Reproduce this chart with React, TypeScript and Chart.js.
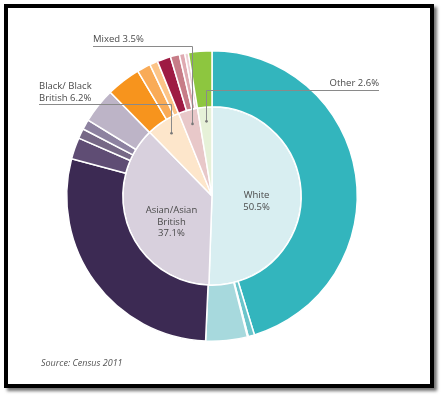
import React, { useEffect, useRef } from "react";
import { Chart, registerables } from "chart.js";

Chart.register(...registerables);

// Inner ring: main ethnic groups (Census 2011)
const groupLabels = ["White", "Asian/Asian British", "Black/ Black British", "Mixed", "Other"];
const groupValues = [50.5, 37.1, 6.2, 3.5, 2.6];
const groupColors = ["#d8eef1", "#d8d0dd", "#fde6cb", "#e8c8c9", "#e6f1d8"];

// Outer ring: sub-groups, in the same clockwise order
const subLabels = [
  "White British", "White Irish", "Gypsy/Traveller", "Other White",
  "Indian", "Pakistani", "Bangladeshi", "Chinese", "Other Asian",
  "African", "Caribbean", "Other Black",
  "White & Black Caribbean", "White & Asian", "Other Mixed", "White & Black African",
  "Other",
];
const subValues = [45.1, 0.7, 0.1, 4.6, 28.3, 2.4, 1.1, 1.1, 3.9, 3.8, 1.5, 0.9, 1.5, 1.0, 0.6, 0.4, 2.6];
const subColors = [
  "#33b5bd", "#6cc5cb", "#8fd1d5", "#a7d9dd",
  "#3c2a53", "#5f4d74", "#766886", "#8d82a0", "#bdb4c7",
  "#f7941d", "#f9ab57", "#fcc487",
  "#9e1b43", "#c77c87", "#dfaab1", "#eed0d4",
  "#8dc63f",
];

const FONT = '"Open Sans", sans-serif';
const TEXT = "#4a4a4a";

const labelsPlugin = {
  id: "labelsPlugin",
  afterDraw(chart: any) {
    const ctx = chart.ctx;
    const meta = chart.getDatasetMeta(1);
    const arcs = meta.data;
    const mid = (a: any) => (a.startAngle + a.endAngle) / 2;
    const pt = (a: any, f: number) => {
      const m = mid(a);
      const r = a.outerRadius * f;
      return { x: a.x + Math.cos(m) * r, y: a.y + Math.sin(m) * r };
    };
    ctx.save();
    ctx.fillStyle = TEXT;
    ctx.font = "9.5px " + FONT;
    ctx.textAlign = "center";
    ctx.textBaseline = "middle";
    // White label
    const w = pt(arcs[0], 0.5);
    ctx.fillText("White", w.x, w.y - 1);
    ctx.fillText(groupValues[0].toFixed(1) + "%", w.x, w.y + 11);
    // Asian label
    const a = pt(arcs[1], 0.5);
    ctx.fillText("Asian/Asian", a.x + 1, a.y - 2);
    ctx.fillText("British", a.x + 1, a.y + 10);
    ctx.fillText(groupValues[1].toFixed(1) + "%", a.x + 1, a.y + 21);

    // callouts
    ctx.strokeStyle = "#8a8a8a";
    ctx.lineWidth = 1;
    const callout = (i: number, lineY: number, endX: number) => {
      const p = pt(arcs[i], 0.84);
      const x = Math.round(p.x) + 0.5;
      ctx.beginPath();
      ctx.moveTo(x, p.y);
      ctx.lineTo(x, lineY + 0.5);
      ctx.lineTo(endX, lineY + 0.5);
      ctx.stroke();
      ctx.fillStyle = "#777";
      ctx.beginPath();
      ctx.arc(x, p.y, 1.3, 0, Math.PI * 2);
      ctx.fill();
      return x;
    };
    callout(2, 104, 39);
    callout(3, 46, 93);
    callout(4, 90, 379);

    ctx.fillStyle = TEXT;
    ctx.font = "9.5px " + FONT;
    ctx.textBaseline = "alphabetic";
    ctx.textAlign = "left";
    ctx.fillText("Black/ Black", 39, 89);
    ctx.fillText("British " + groupValues[2].toFixed(1) + "%", 39, 101);
    ctx.fillText("Mixed " + groupValues[3].toFixed(1) + "%", 93, 42);
    ctx.textAlign = "right";
    ctx.fillText("Other " + groupValues[4].toFixed(1) + "%", 379, 86);

    ctx.textAlign = "left";
    ctx.fillStyle = "#555";
    ctx.font = "italic 9px " + FONT;
    ctx.fillText("Source: Census 2011", 41, 366);
    ctx.restore();
  },
};

export default function App() {
  const ref = useRef<HTMLCanvasElement>(null);
  useEffect(() => {
    if (!ref.current) return;
    const chart = new Chart(ref.current, {
      type: "pie",
      data: {
        labels: subLabels,
        datasets: [
          {
            label: "Sub-groups",
            data: subValues,
            backgroundColor: subColors,
            borderColor: "#ffffff",
            borderWidth: 1.5,
            weight: 56,
          } as any,
          {
            label: "Groups",
            data: groupValues,
            backgroundColor: groupColors,
            borderColor: "#ffffff",
            borderWidth: 1.5,
            weight: 89,
          } as any,
        ],
      },
      options: {
        responsive: false,
        animation: false,
        events: [],
        layout: { padding: { left: 66, right: 86, top: 50, bottom: 56 } },
        plugins: {
          legend: { display: false },
          tooltip: { enabled: false },
        },
      },
      plugins: [labelsPlugin],
    });
    return () => chart.destroy();
  }, []);

  return (
    <div style={{ position: "absolute", left: 0, top: 0, width: 444, height: 398, background: "#fff" }}>
      <div
        style={{
          position: "absolute",
          left: 4,
          top: 4,
          width: 422,
          height: 376,
          border: "4px solid #000",
          boxShadow: "3px 3px 3px rgba(0,0,0,0.55)",
          background: "#fff",
        }}
      />
      <canvas ref={ref} width={444} height={398} style={{ position: "absolute", left: 0, top: 0 }} />
    </div>
  );
}
